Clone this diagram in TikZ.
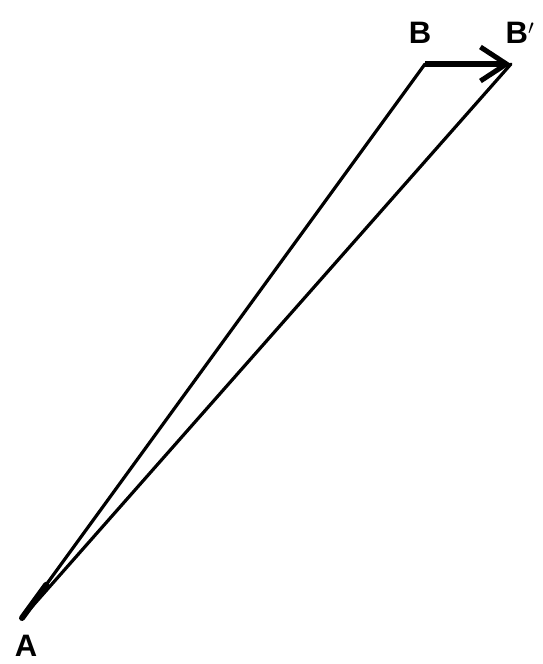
\documentclass[tikz,border=0pt]{standalone}
\usepackage{fontspec}
\setmainfont{Liberation Sans}
\usetikzlibrary{arrows.meta,calc}
\begin{document}
\begin{tikzpicture}[x=1pt,y=-1pt,
  lab/.style={font=\fontsize{31}{34}\selectfont\bfseries, inner sep=0pt},
  thinline/.style={line width=3.2pt, line cap=round, line join=round},
  vec/.style={line width=6pt, -{Straight Barb[length=26pt,width=34pt,line width=5pt]}}]
\useasboundingbox (0,0) rectangle (542,664);
\coordinate (A) at (22,618);
\coordinate (B) at (425,64);
\coordinate (Bp) at (511,64);
\draw[thinline] (A) -- (B);
\draw[thinline] (A) -- (Bp);
\draw[line width=6pt, line cap=round] (A) -- ($(A)!0.06!(B)$);
\draw[vec] (B) -- (Bp);
\node[lab] (la) at (26,646) {A};
\node[lab] (lb) at (420,33) {B};
\node[lab] (lbp) at (520,33) {B$'$};
\end{tikzpicture}
\end{document}
